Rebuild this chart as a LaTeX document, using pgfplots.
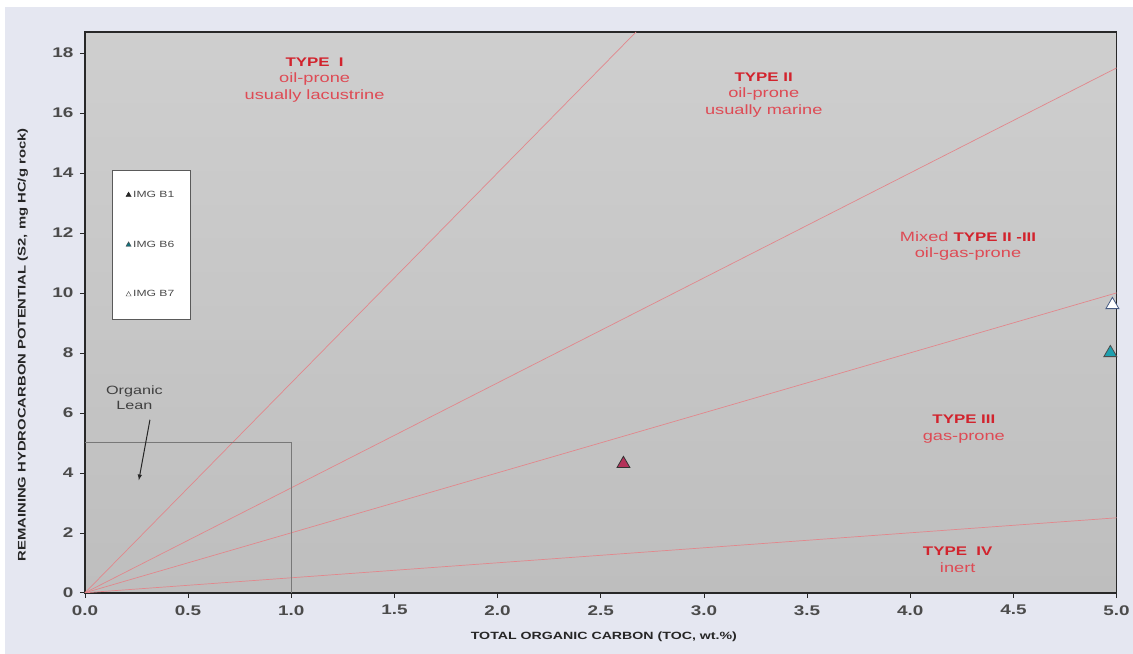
\documentclass[border=0pt]{standalone}
\usepackage{pgfplots}
\pgfplotsset{compat=1.18}
\usepackage{graphicx}
\usepackage{fontspec}
\setmainfont{Liberation Sans}
\newcommand{\sx}[1]{\scalebox{1.35}[1]{#1}}
\definecolor{bgout}{RGB}{229,231,241}
\definecolor{plotbg}{RGB}{200,200,200}
\definecolor{typered}{RGB}{210,35,45}
\definecolor{subred}{RGB}{222,75,85}
\definecolor{linered}{RGB}{226,135,140}
\definecolor{ticktext}{RGB}{75,75,75}
\definecolor{frame}{RGB}{40,40,40}
\definecolor{leanbox}{RGB}{120,120,120}
\definecolor{bone}{RGB}{180,50,90}
\definecolor{bsix}{RGB}{30,160,175}
\begin{document}
\begin{tikzpicture}[x=1pt,y=1pt]
\fill[bgout] (-85,-61) rectangle (1048,593);
\fill[white] (-85,586) rectangle (1048,593);
\fill[white] (-85,-61) rectangle (-80,593);
\begin{axis}[
  at={(0,0)}, anchor=south west,
  scale only axis, width=1032pt, height=561pt,
  xmin=0, xmax=5, ymin=0, ymax=18.7,
  xtick={0,0.5,...,5}, ytick={0,2,...,18},
  /pgf/number format/assume math mode=true,
  xticklabel={\sx{\pgfmathprintnumber[fixed,fixed zerofill,precision=1]{\tick}}},
  yticklabel={\sx{\pgfmathprintnumber[fixed,precision=0]{\tick}}},
  ticklabel style={font=\fontsize{14}{16}\selectfont\bfseries, text=ticktext},
  xticklabel style={yshift=-4pt},
  yticklabel style={xshift=-3pt},
  tick pos=left, tick align=outside, major tick length=5pt,
  tick style={frame, line width=0.6pt},
  axis line style={frame, line width=1.6pt},
  axis background/.style={shade, top color=plotbg!88!white, bottom color=plotbg!95!black},
  xlabel={\sx{TOTAL ORGANIC CARBON (TOC, wt.\%)}},
  ylabel={\sx{REMAINING HYDROCARBON POTENTIAL (S2, mg HC/g rock)}},
  label style={font=\fontsize{10.5}{12}\selectfont\bfseries, text=black!85},
  ylabel style={font=\fontsize{11}{12}\selectfont\bfseries},
  xlabel style={at={(axis description cs:0.503,-0.0785)}, anchor=center},
  ylabel style={at={(axis description cs:-0.0602,0.442)}, anchor=center},
  legend style={at={(axis cs:0.13,14.1)}, anchor=north west, draw={rgb,255:red,90;green,90;blue,90},
    fill=white, font=\fontsize{9}{11}\selectfont, text=ticktext, row sep=38pt,
    inner xsep=14pt, inner ysep=19pt},
  legend cell align=left,
]
% classification lines
\addplot[linered, line width=0.7pt, forget plot] coordinates {(0,0) (2.671,18.7)};
\addplot[linered, line width=0.7pt, forget plot] coordinates {(0,0) (5,17.5)};
\addplot[linered, line width=0.7pt, forget plot] coordinates {(0,0) (5,10)};
\addplot[linered, line width=0.7pt, forget plot] coordinates {(0,0) (5,2.5)};
% organic lean box
\addplot[leanbox, line width=0.7pt, forget plot] coordinates {(0,5) (1,5) (1,0)};
% samples
\addplot[only marks, mark=triangle*, mark size=7.5pt, mark options={fill=bone, draw=black!80, line width=0.8pt}, forget plot] coordinates {(2.61,4.3)};
\addplot[only marks, mark=triangle*, mark size=7.5pt, mark options={fill=bsix, draw=black!70, line width=0.8pt}, forget plot] coordinates {(4.97,8.0)};
\addplot[only marks, mark=triangle*, mark size=7.5pt, mark options={fill=white, draw={rgb,255:red,70;green,90;blue,130}, line width=0.8pt}, forget plot] coordinates {(4.98,9.6)};
% legend images
\addlegendimage{only marks, mark=triangle*, mark size=3pt, mark options={fill=black!85, draw=black!85}}
\addlegendentry{\sx{IMG B1}}
\addlegendimage{only marks, mark=triangle*, mark size=3pt, mark options={fill=bsix!70!black, draw=black!70}}
\addlegendentry{\sx{IMG B6}}
\addlegendimage{only marks, mark=triangle*, mark size=3pt, mark options={fill=white, draw=black!70}}
\addlegendentry{\sx{IMG B7}}
% labels
\node[align=center, text=subred, font=\fontsize{13.5}{16.5}\selectfont] at (axis cs:1.113,17.1)
  {{\color{typered}\bfseries\fontsize{12.5}{16.5}\selectfont\sx{TYPE\ \ I}}\\\sx{oil-prone}\\\sx{usually lacustrine}};
\node[align=center, text=subred, font=\fontsize{13.5}{16.5}\selectfont] at (axis cs:3.29,16.6)
  {{\color{typered}\bfseries\fontsize{12.5}{16.5}\selectfont\sx{TYPE II}}\\\sx{oil-prone}\\\sx{usually marine}};
\node[align=center, text=subred, font=\fontsize{13.5}{16.5}\selectfont] at (axis cs:4.28,11.57)
  {\sx{Mixed {\color{typered}\bfseries\fontsize{12.5}{16.5}\selectfont TYPE II -III}}\\\sx{oil-gas-prone}};
\node[align=center, text=subred, font=\fontsize{13.5}{16.5}\selectfont] at (axis cs:4.26,5.45)
  {{\color{typered}\bfseries\fontsize{12.5}{16.5}\selectfont\sx{TYPE III}}\\\sx{gas-prone}};
\node[align=center, text=subred, font=\fontsize{13.5}{16.5}\selectfont] at (axis cs:4.23,1.1)
  {{\color{typered}\bfseries\fontsize{12.5}{16.5}\selectfont\sx{TYPE\ \ IV}}\\\sx{inert}};
\node[align=center, text=black!75, font=\fontsize{12}{15}\selectfont] at (axis cs:0.24,6.5)
  {\sx{Organic}\\\sx{Lean}};
\draw[-latex, black!85, line width=1pt] (axis cs:0.315,5.77) -- (axis cs:0.261,3.75);
\end{axis}
\end{tikzpicture}
\end{document}
